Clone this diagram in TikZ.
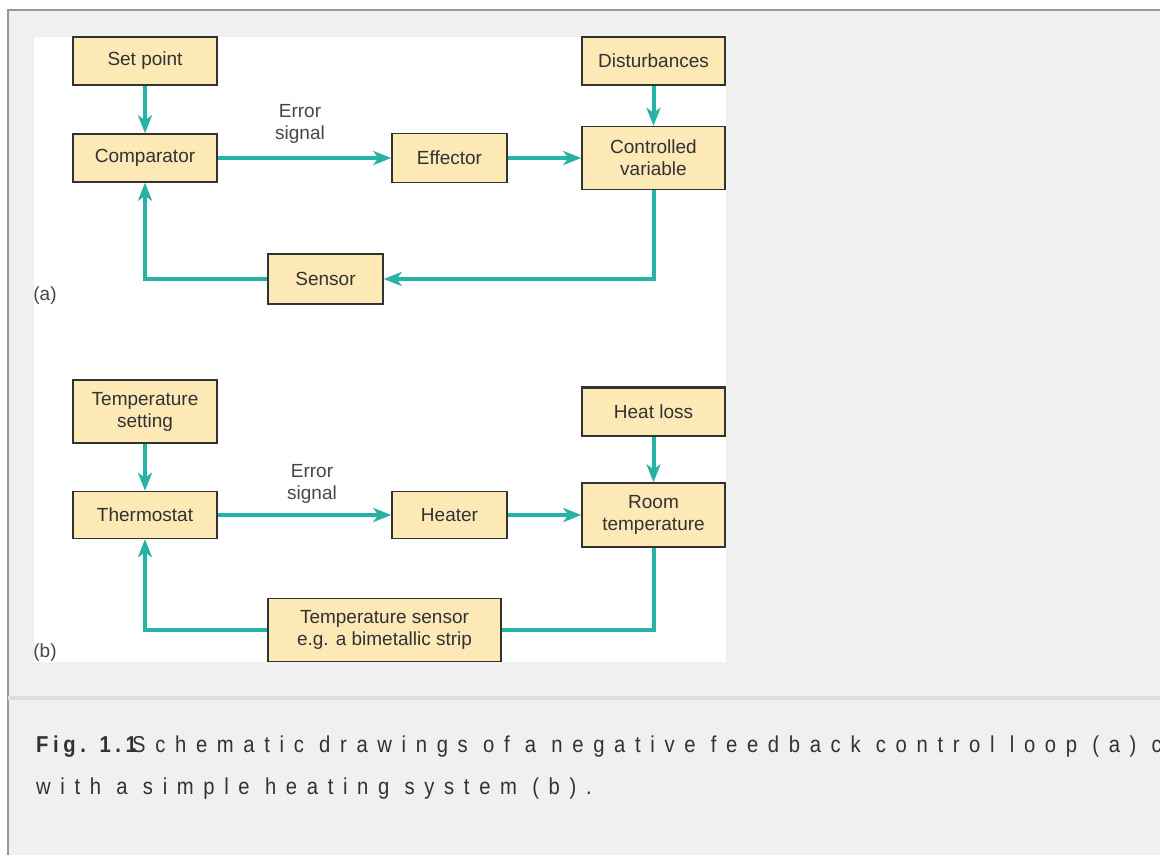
\documentclass[tikz,border=0pt]{standalone}
\usepackage{fontspec}
\setmainfont{Liberation Sans}
\newfontfamily\capfont[LetterSpace=42,FakeStretch=0.88]{Liberation Sans}
\newfontfamily\capbold[LetterSpace=20,FakeStretch=0.88]{Liberation Sans Bold}
\usetikzlibrary{arrows.meta}
\definecolor{pagebg}{RGB}{240,240,240}
\definecolor{rulegray}{RGB}{150,150,150}
\definecolor{rulelight}{RGB}{222,222,222}
\definecolor{boxfill}{RGB}{252,233,182}
\definecolor{flowteal}{RGB}{40,178,166}
\definecolor{inkgray}{RGB}{50,50,50}
\tikzstyle{blk}=[draw=inkgray, line width=1.4pt, fill=boxfill, inner sep=0pt, align=center, text=inkgray, font=\fontsize{19}{22}\selectfont]
\tikzstyle{note}=[inner sep=0pt, align=center, text=inkgray!90, font=\fontsize{19}{22}\selectfont]
\tikzstyle{flow}=[->, >={Stealth[length=18pt,width=14pt,inset=5pt]}, draw=flowteal, line width=4pt]
\tikzstyle{plain}=[draw=flowteal, line width=4pt]
\tikzstyle{captext}=[anchor=base west, inner sep=0pt, text=inkgray]
\begin{document}
\begin{tikzpicture}[x=1pt, y=-1pt]
            \useasboundingbox (0,0) rectangle (1160,855);
            \fill[white] (0,0) rectangle (1160,855);
            \fill[pagebg] (8,10) rectangle (1160,855);
            \draw[rulegray, line width=1.5pt] (8,855) -- (8,10) -- (1160,10);
            \fill[rulelight] (8,696) rectangle (1160,700);
            \fill[white] (34,37) rectangle (726,662);
            % (a) negative feedback loop
            \node[blk, minimum width=144pt, minimum height=48pt] (setpt) at (145, 61) {Set point}
            ;
            \node[blk, minimum width=144pt, minimum height=48pt] (comp) at (145, 158) {Comparator}
                edge[flow, <-] (setpt)
            ;
            \node[blk, minimum width=115pt, minimum height=49pt] (eff) at (449.5, 158) {Effector}
                edge[flow, <-] (comp)
            ;
            \node[blk, minimum width=143pt, minimum height=48pt] (dist) at (653.5, 61) {Disturbances}
            ;
            \node[blk, minimum width=143pt, minimum height=63pt] (ctrl) at (653.5, 158) {Controlled\\variable}
                edge[flow, <-] (eff)
                edge[flow, <-] (dist)
            ;
            \node[blk, minimum width=115pt, minimum height=50pt] (sens) at (325.5, 279) {Sensor}
            ;
            \draw[flow] (ctrl.south) |- (sens.east);
            \draw[flow] (sens.west) -| (comp.south);
            \node[note] (erra) at (300, 124) {Error\\signal};
            \node[note] (laba) at (45, 296) {(a)};
            % (b) heating system
            \node[blk, minimum width=144pt, minimum height=63pt] (tset) at (145, 411.5) {Temperature\\setting}
            ;
            \node[blk, minimum width=144pt, minimum height=47pt] (thermo) at (145, 515) {Thermostat}
                edge[flow, <-] (tset)
            ;
            \node[blk, minimum width=115pt, minimum height=47pt] (heater) at (449.5, 515) {Heater}
                edge[flow, <-] (thermo)
            ;
            \node[blk, minimum width=143pt, minimum height=48pt] (loss) at (653.5, 412) {Heat loss}
            ;
            \draw[inkgray, line width=3pt] (loss.north west) -- (loss.north east);
            \node[blk, minimum width=143pt, minimum height=64pt] (room) at (653.5, 515) {Room\\temperature}
                edge[flow, <-] (heater)
                edge[flow, <-] (loss)
            ;
            \node[blk, minimum width=233pt, minimum height=63pt] (tsens) at (384.5, 630) {Temperature sensor\\e.g. a bimetallic strip}
            ;
            \draw[plain] (room.south) |- (tsens.east);
            \draw[flow] (tsens.west) -| (thermo.south);
            \node[note] (errb) at (312, 484) {Error\\signal};
            \node[note] (labb) at (45, 653) {(b)};
            % caption
            \node[captext, font=\capbold\fontsize{23}{42}\selectfont] (fig) at (36, 752) {Fig. 1.1};
            \node[captext, font=\capfont\fontsize{23}{42}\selectfont] (capa) at (132, 752) {Schematic drawings of a negative feedback control loop (a) c};
            \node[captext, font=\capfont\fontsize{23}{42}\selectfont] (capb) at (36, 794) {with a simple heating system (b).};
\end{tikzpicture}
\end{document}
